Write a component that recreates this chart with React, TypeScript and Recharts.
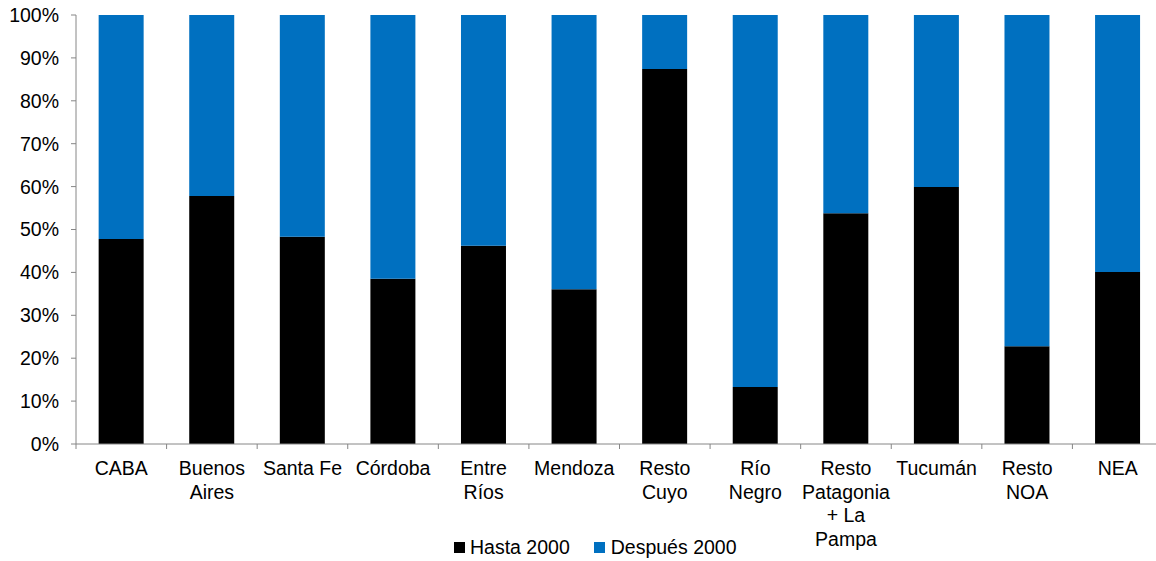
import React from 'react';
import { BarChart, Bar, XAxis, YAxis, Legend } from 'recharts';

const regions = [
  'CABA',
  'Buenos\nAires',
  'Santa Fe',
  'Córdoba',
  'Entre\nRíos',
  'Mendoza',
  'Resto\nCuyo',
  'Río\nNegro',
  'Resto\nPatagonia\n+ La\nPampa',
  'Tucumán',
  'Resto\nNOA',
  'NEA',
];
const hasta2000 = [47.8, 57.8, 48.3, 38.5, 46.2, 36.1, 87.4, 13.3, 53.8, 59.9, 22.8, 40.1];
const despues2000 = hasta2000.map((v) => 100 - v);
const yTicks = [0, 10, 20, 30, 40, 50, 60, 70, 80, 90, 100];

const BLACK = '#000000';
const BLUE = '#0070C0';
const AXIS = '#868686';
const FONT = '"Liberation Sans", Arial, sans-serif';
const FS = 19.5;

const data = regions.map((name, i) => ({
  name,
  hasta: hasta2000[i],
  despues: despues2000[i],
}));

// the plot runs a little past the right edge of the picture
const CHART_W = 1163;
const Y_W = 76;
const HALF_BAND = (CHART_W - Y_W) / regions.length / 2;

const RegionTick = (props: any) => {
  const { x, y, payload } = props;
  const lines = String(payload.value).split('\n');
  return (
    <g transform={`translate(${x},${y})`}>
      <line x1={-HALF_BAND} y1={0} x2={-HALF_BAND} y2={5} stroke={AXIS} />
      <text textAnchor="middle" fontFamily={FONT} fontSize={FS} fill="#000">
        {lines.map((l, i) => (
          <tspan key={i} x={0} y={31 + i * 23.5}>
            {l}
          </tspan>
        ))}
      </text>
    </g>
  );
};

const LegendBox = () => (
  <div
    style={{
      display: 'flex',
      alignItems: 'center',
      height: 28,
      paddingLeft: 454,
      fontFamily: FONT,
      fontSize: FS,
      color: '#000',
    }}
  >
    <span style={{ width: 11, height: 11, background: BLACK, display: 'inline-block', marginRight: 5 }} />
    <span style={{ marginRight: 24 }}>Hasta 2000</span>
    <span style={{ width: 11, height: 11, background: BLUE, display: 'inline-block', marginRight: 6 }} />
    <span>Después 2000</span>
  </div>
);

export default function App() {
  return (
    <div
      style={{
        position: 'absolute',
        left: 0,
        top: 0,
        width: 1156,
        height: 561,
        overflow: 'hidden',
        background: '#fff',
      }}
    >
      <BarChart
        width={CHART_W}
        height={561}
        data={data}
        margin={{ top: 15, right: 0, left: 0, bottom: 0 }}
        barCategoryGap="25%"
      >
        <XAxis
          dataKey="name"
          interval={0}
          height={89}
          tickSize={0}
          tickMargin={0}
          tick={<RegionTick />}
          axisLine={{ stroke: AXIS }}
        />
        <YAxis
          width={Y_W}
          domain={[0, 100]}
          ticks={yTicks}
          interval={0}
          tickFormatter={(v: number) => `${v}%`}
          tickSize={5}
          tickMargin={12}
          tick={{ fontFamily: FONT, fontSize: FS, fill: '#000' }}
          tickLine={{ stroke: AXIS }}
          axisLine={{ stroke: AXIS }}
        />
        <Legend verticalAlign="bottom" content={<LegendBox />} wrapperStyle={{ left: 0, bottom: 0 }} />
        <Bar dataKey="hasta" name="Hasta 2000" stackId="a" fill={BLACK} isAnimationActive={false} />
        <Bar dataKey="despues" name="Después 2000" stackId="a" fill={BLUE} isAnimationActive={false} />
      </BarChart>
    </div>
  );
}
